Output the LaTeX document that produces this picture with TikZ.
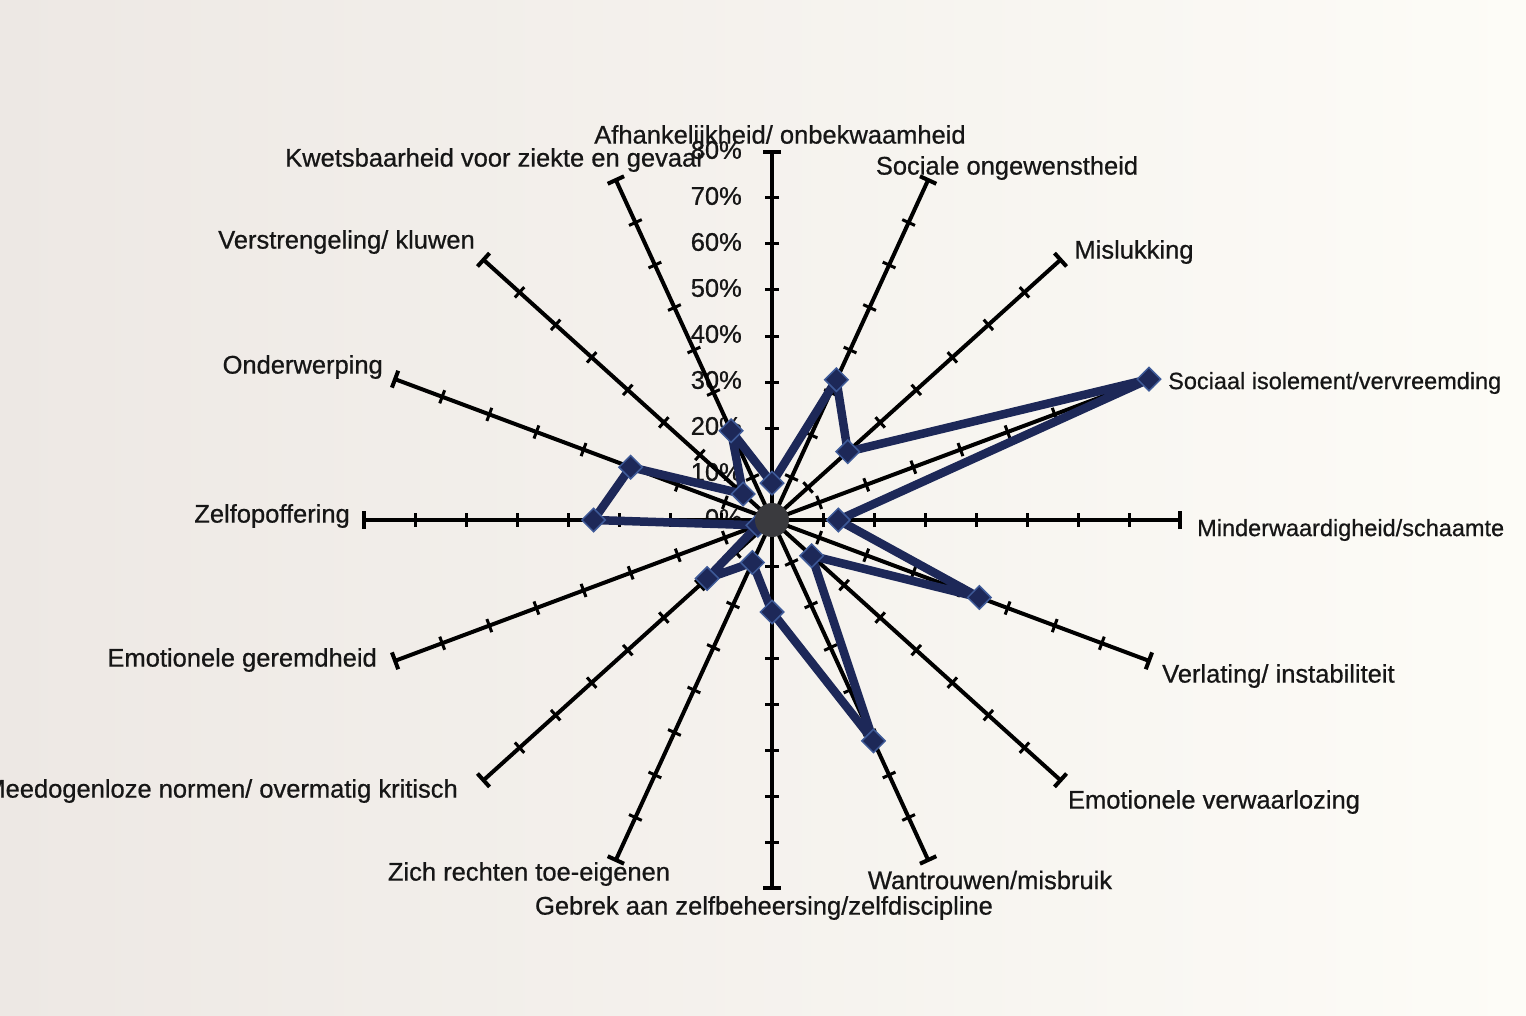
\documentclass[tikz,border=0pt]{standalone}
\usepackage{fontspec}
\setmainfont[FakeBold=0.7]{Liberation Sans}
\usetikzlibrary{shapes.geometric}
\definecolor{navy}{RGB}{29,40,88}
\definecolor{markedge}{RGB}{62,90,152}
\definecolor{labgray}{RGB}{22,22,22}
\definecolor{bgL}{RGB}{237,232,228}
\definecolor{bgR}{RGB}{253,252,247}
\definecolor{centerc}{RGB}{58,58,62}
\begin{document}
\begin{tikzpicture}[x=1pt,y=-1pt,
  axisline/.style={line width=4pt, black},
  tickmark/.style={line width=3pt, black},
  series/.style={line width=8.5pt, draw=navy, line join=round},
  marker/.style={diamond, fill=navy, draw=markedge, line width=1.5pt, minimum size=24pt, inner sep=0pt},
  lab/.style={font=\fontsize{25.5}{30}\selectfont, text=labgray, inner sep=0pt},
  labsmall/.style={lab, font=\fontsize{23.5}{28}\selectfont},
]
\useasboundingbox (0,0) rectangle (1526,1016);
\shade[left color=bgL, right color=bgR] (0,0) rectangle (1526,1016);

% tick labels on the vertical axis
\foreach \k in {0,...,8}{
  \pgfmathtruncatemacro\pc{10*\k}
  \node[lab, anchor=east] (tl\k) at (742,{518-46*\k}) {\pc\%};
}

% axes with ticks
\foreach \i in {0,...,15}{
  \pgfmathsetmacro\a{90-22.5*\i}
  \pgfmathsetmacro\nx{46*sin(\a)}
  \pgfmathsetmacro\ny{51*cos(\a)}
  \pgfmathsetmacro\nl{sqrt(\nx*\nx+\ny*\ny)}
  \coordinate (c\i) at (772,520);
  \coordinate (e\i) at ({772+408*cos(\a)},{520-368*sin(\a)});
  \draw[axisline] (c\i) -- (e\i);
  \foreach \k in {1,...,7}{
    \draw[tickmark] ({772+51*\k*cos(\a)+7*\nx/\nl},{520-46*\k*sin(\a)+7*\ny/\nl})
      -- ({772+51*\k*cos(\a)-7*\nx/\nl},{520-46*\k*sin(\a)-7*\ny/\nl});
  }
  \draw[axisline] ({772+408*cos(\a)+9*\nx/\nl},{520-368*sin(\a)+9*\ny/\nl})
      -- ({772+408*cos(\a)-9*\nx/\nl},{520-368*sin(\a)-9*\ny/\nl});
}

% data points (value in tens of percent)
\foreach \i/\v in {0/0.8,1/3.3,2/2.1,3/8.0,4/1.3,5/4.4,6/1.1,7/5.2,8/2.0,9/1.0,10/1.8,11/0.3,12/3.5,13/3.0,14/0.8,15/2.1}{
  \pgfmathsetmacro\a{90-22.5*\i}
  \coordinate (p\i) at ({772+51*\v*cos(\a)},{520-46*\v*sin(\a)});
}
\draw[series] (p0) -- (p1) -- (p2) -- (p3) -- (p4) -- (p5) -- (p6) -- (p7) -- (p8)
  -- (p9) -- (p10) -- (p11) -- (p12) -- (p13) -- (p14) -- (p15) -- cycle;
\foreach \i in {0,...,15}{
  \node[marker] (m\i) at (p\i) {};
}
\fill[centerc] (772,520) circle (17pt);

% category labels
\node[lab] (l0) at (780,137) {Afhankelijkheid/ onbekwaamheid};
\node[lab] (l1) at (1007,168) {Sociale ongewenstheid};
\node[lab] (l2) at (1134,252) {Mislukking};
\node[labsmall, anchor=west] (l3) at (1168,383) {Sociaal isolement/vervreemding};
\node[labsmall, anchor=west] (l4) at (1197,530) {Minderwaardigheid/schaamte};
\node[lab, anchor=west] (l5) at (1162,676) {Verlating/ instabiliteit};
\node[lab] (l6) at (1214,802) {Emotionele verwaarlozing};
\node[lab] (l7) at (990,880) {Wantrouwen/misbruik};
\node[lab] (l8) at (764,908) {Gebrek aan zelfbeheersing/zelfdiscipline};
\node[lab] (l9) at (529,874) {Zich rechten toe-eigenen};
\node[lab, anchor=east] (l10) at (458,791) {Meedogenloze normen/ overmatig kritisch};
\node[lab, anchor=east] (l11) at (377,660) {Emotionele geremdheid};
\node[lab, anchor=east] (l12) at (350,516) {Zelfopoffering};
\node[lab, anchor=east] (l13) at (383,367) {Onderwerping};
\node[lab, anchor=east] (l14) at (475,242) {Verstrengeling/ kluwen};
\node[lab, anchor=east] (l15) at (705,160) {Kwetsbaarheid voor ziekte en gevaar};
\end{tikzpicture}
\end{document}
